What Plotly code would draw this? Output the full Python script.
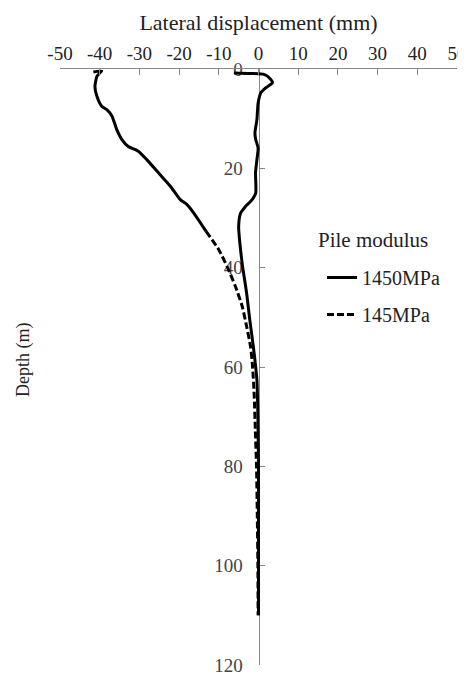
import plotly.graph_objects as go

# ---- data ----
depth_1450 = [0.8, 0.9, 1.1, 2.0, 2.8, 3.8, 4.8, 6.9, 10.2, 12.9, 14.2, 15.9, 18.3, 20.9, 25.0,
              26.3, 27.7, 29.0, 31.7, 35.0, 39.8, 45.1, 50.5, 55.9, 62.6, 70, 80, 90, 100, 110]
disp_1450 = [-6.2, -2.0, 1.4, 3.0, 3.5, 1.8, 0.6, -0.1, -0.4, -0.9, -0.7, -0.1, -0.4, -0.75, -0.7,
             -1.6, -3.3, -4.5, -5.0, -4.7, -4.0, -3.0, -2.2, -1.3, -0.4, -0.15, 0.0, 0.0, 0.0, 0.0]

# 145 MPa curve: upper part (appears solid in the reference) and lower part (dashed)
depth_145_upper = [0.6, 0.4, 0.8, 1.5, 3.5, 5.5, 7.5, 8.2, 9.5, 12.2, 14.2, 15.6, 16.6, 18.3,
                   20.9, 23.6, 26.3, 27.3, 29.0, 30.4, 32.7]
disp_145_upper = [-41.6, -39.5, -40.0, -40.7, -41.2, -40.7, -39.5, -38.2, -36.9, -35.7, -34.4,
                  -32.8, -30.2, -28.1, -25.2, -22.2, -19.7, -18.0, -16.3, -15.1, -13.2]
depth_145_lower = [32.7, 36.4, 39.8, 43.8, 47.8, 51.8, 55.9, 59.9, 65.3, 72.6, 80, 90, 100, 110]
disp_145_lower = [-13.2, -10.0, -7.9, -5.8, -4.1, -3.0, -2.0, -1.5, -1.1, -0.8, -0.5, -0.3, -0.15, -0.1]

x_ticks = [-50, -40, -30, -20, -10, 0, 10, 20, 30, 40, 50]
y_ticks = [0, 20, 40, 60, 80, 100, 120]

FONT = "Liberation Serif"

# the page body has an 8px margin; the figure is offset by it
W, H = 458, 668
ML, MR, MT, MB = 52, 9, 61, 11
PW, PH = W - ML - MR, H - MT - MB


def px_x(vx):  # viewport x pixel -> paper fraction
    return (vx - 8 - ML) / PW


def px_y(vy):  # viewport y pixel -> paper fraction
    return (H - MB + 8 - vy) / PH


fig = go.Figure()
fig.add_trace(go.Scatter(x=disp_1450, y=depth_1450, mode="lines", name="1450MPa",
                         line=dict(color="black", width=3, shape="spline", smoothing=0.6),
                         legendgroup="a"))
fig.add_trace(go.Scatter(x=disp_145_upper, y=depth_145_upper, mode="lines", name="145MPa",
                         line=dict(color="black", width=3, shape="spline", smoothing=0.6),
                         showlegend=False, legendgroup="b"))
fig.add_trace(go.Scatter(x=disp_145_lower, y=depth_145_lower, mode="lines", name="145MPa",
                         line=dict(color="black", width=3, dash="7px,3px", shape="spline", smoothing=0.6),
                         legendgroup="b"))

fig.update_layout(
    template="none",
    width=W, height=H,
    margin=dict(l=ML, r=MR, t=MT, b=MB, autoexpand=False),
    paper_bgcolor="white", plot_bgcolor="white",
    font=dict(family=FONT, color="#222"),
    xaxis=dict(
        side="top", range=[-50, 50], tickvals=x_ticks, ticktext=[str(v) for v in x_ticks],
        ticks="inside", ticklen=6, tickcolor="#888", showline=True, linecolor="#888", linewidth=1,
        showgrid=False, zeroline=False, tickfont=dict(size=19, family=FONT, color="#222"),
        title=dict(text="Lateral displacement (mm)", font=dict(size=22, family=FONT, color="#222"),
                   standoff=6),
        fixedrange=True, ticklabeloverflow="allow", automargin=False,
    ),
    yaxis=dict(
        range=[120, 0], anchor="free", position=0.5, tickvals=y_ticks,
        ticktext=[str(v) for v in y_ticks],
        ticks="inside", ticklen=5, tickcolor="#888", showline=True, linecolor="#888", linewidth=1,
        showgrid=False, zeroline=False, tickfont=dict(size=19, family=FONT, color="#444"),
        ticklabelstandoff=12, layer="below traces", fixedrange=True, ticklabeloverflow="allow",
        automargin=False,
    ),
    showlegend=True,
    legend=dict(
        x=px_x(322), y=px_y(258), xanchor="left", yanchor="top",
        bgcolor="rgba(0,0,0,0)", font=dict(size=20, family=FONT, color="#222"),
        traceorder="grouped", tracegroupgap=8,
    ),
    annotations=[
        dict(text="Depth (m)", x=px_x(23), y=px_y(360), xref="paper", yref="paper",
             xanchor="center", yanchor="middle", showarrow=False, textangle=-90,
             font=dict(size=18, family=FONT, color="#222")),
        dict(text="Pile modulus", x=px_x(316), y=px_y(240), xref="paper", yref="paper",
             xanchor="left", yanchor="middle", showarrow=False,
             font=dict(size=21, family=FONT, color="#222")),
    ],
)

fig.write_html("out.html")
